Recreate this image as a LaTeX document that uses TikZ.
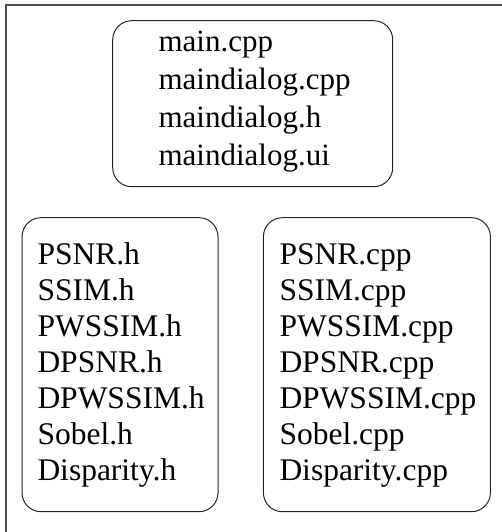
\documentclass[tikz,border=0pt]{standalone}
\usepackage{fontspec}
\setmainfont{Liberation Serif}
\begin{document}
\begin{tikzpicture}[x=1pt,y=-1pt,
  filebox/.style={draw=black!85, line width=1pt, rounded corners=19pt, inner sep=0pt},
  filelist/.style={anchor=base west, align=left, inner sep=0pt},
  frameline/.style={draw=black!70, line width=1.2pt}]
\useasboundingbox (0,0) rectangle (502,532);
\coordinate (fa) at (6,540);
\coordinate (fb) at (6,5);
\coordinate (fc) at (510,5);
\draw[frameline] (fa) -- (fb) -- (fc);
\node[filebox, minimum width=280pt, minimum height=166pt] (top) at (252.7,103.7) {};
\node[filebox, minimum width=196pt, minimum height=294pt] (hbox) at (120,364.7) {};
\node[filebox, minimum width=227pt, minimum height=294pt] (cbox) at (376.9,364.7) {};
\node[filelist, font=\fontsize{31}{37.8}\selectfont] (toptext) at (158.3,165.1)
  {main.cpp\\maindialog.cpp\\maindialog.h\\maindialog.ui};
\node[filelist, font=\fontsize{31.5}{36}\selectfont] (htext) at (37.3,480.3)
  {PSNR.h\\SSIM.h\\PWSSIM.h\\DPSNR.h\\DPWSSIM.h\\Sobel.h\\Disparity.h};
\node[filelist, font=\fontsize{31.5}{36}\selectfont] (ctext) at (279.3,480.3)
  {PSNR.cpp\\SSIM.cpp\\PWSSIM.cpp\\DPSNR.cpp\\DPWSSIM.cpp\\Sobel.cpp\\Disparity.cpp};
\end{tikzpicture}
\end{document}
